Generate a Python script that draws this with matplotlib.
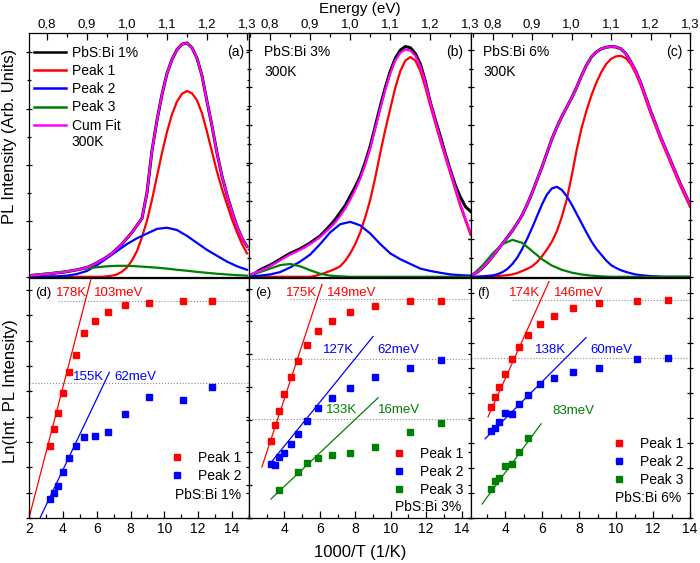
import matplotlib
matplotlib.use('Agg')
import matplotlib.pyplot as plt
from matplotlib.ticker import MultipleLocator, FuncFormatter

plt.rcParams['font.family'] = ['Liberation Sans', 'DejaVu Sans']

RED = '#ff0000'
BLUE = '#0000ff'
GREEN = '#008000'
MAGENTA = '#ff00ff'

# ---- 300K spectra (normalised intensity) ----
# coarse grid for the broad / small components
energy = [0.75, 0.775, 0.8, 0.825, 0.85, 0.875, 0.9, 0.925, 0.95, 0.975, 1.0, 1.025,
          1.05, 1.075, 1.1, 1.125, 1.15, 1.175, 1.2, 1.225, 1.25, 1.275, 1.3]
# fine grid for the sharper curves
energy_fine = [0.75, 0.7625, 0.775, 0.7875, 0.8, 0.8125, 0.825, 0.8375, 0.85, 0.8625,
               0.875, 0.8875, 0.9, 0.9125, 0.925, 0.9375, 0.95, 0.9625, 0.975, 0.9875,
               1.0, 1.0125, 1.025, 1.0375, 1.05, 1.0625, 1.075, 1.0875, 1.1, 1.1125,
               1.125, 1.1375, 1.15, 1.1625, 1.175, 1.1875, 1.2, 1.2125, 1.225, 1.2375,
               1.25, 1.2625, 1.275, 1.2875, 1.3]

# (a) PbS:Bi 1%
a_peak1 = [0, 0, 0, 0, 0, 0, 0, 0, 0, 0, 0, 0, 0, 0, 0, 0,
           0.002, 0.005, 0.01, 0.022, 0.04, 0.07, 0.11, 0.17, 0.24, 0.33, 0.43, 0.53,
           0.62, 0.695, 0.75, 0.783, 0.795, 0.785, 0.755, 0.70, 0.62, 0.535, 0.45,
           0.375, 0.31, 0.245, 0.19, 0.14, 0.10]
a_peak2 = [0, 0, 0.001, 0.002, 0.005, 0.012, 0.025, 0.05, 0.08, 0.11, 0.14, 0.165,
           0.185, 0.205, 0.21, 0.2, 0.175, 0.145, 0.115, 0.09, 0.065, 0.045, 0.03]
a_peak3 = [0.005, 0.01, 0.014, 0.019, 0.024, 0.03, 0.036, 0.041, 0.045, 0.047, 0.047,
           0.045, 0.042, 0.039, 0.035, 0.03, 0.026, 0.021, 0.017, 0.013, 0.01, 0.007, 0.005]
a_fit = [0.005, 0.006, 0.008, 0.01, 0.012, 0.014, 0.017, 0.019, 0.022, 0.026, 0.03,
         0.035, 0.04, 0.049, 0.06, 0.072, 0.085, 0.10, 0.12, 0.14, 0.165, 0.19, 0.22,
         0.25, 0.36, 0.54, 0.67, 0.78, 0.87, 0.93, 0.972, 0.995, 1.0, 0.98, 0.935, 0.86,
         0.75, 0.645, 0.53, 0.43, 0.35, 0.28, 0.215, 0.165, 0.13]
a_data = a_fit

# (b) PbS:Bi 3%
b_peak1 = [0, 0, 0, 0, 0, 0, 0, 0, 0, 0, 0, 0, 0,
           0.004, 0.01, 0.017, 0.025, 0.034, 0.045, 0.068, 0.1, 0.14, 0.19, 0.255, 0.33,
           0.425, 0.53, 0.63, 0.72, 0.81, 0.88, 0.925, 0.94, 0.925, 0.88, 0.81, 0.73,
           0.655, 0.58, 0.51, 0.44, 0.37, 0.30, 0.24, 0.18]
b_peak2 = [0.002, 0.005, 0.01, 0.02, 0.04, 0.065, 0.095, 0.14, 0.19, 0.225, 0.235, 0.22,
           0.185, 0.14, 0.10, 0.075, 0.055, 0.035, 0.025, 0.017, 0.01, 0.007, 0.005]
b_peak3 = [0.008, 0.02, 0.035, 0.05, 0.055, 0.045, 0.028, 0.013, 0.005, 0.002, 0, 0,
           0, 0, 0, 0, 0, 0, 0, 0, 0, 0, 0]
b_fit = [0.01, 0.017, 0.025, 0.035, 0.045, 0.057, 0.07, 0.083, 0.095, 0.105, 0.115,
         0.127, 0.14, 0.154, 0.17, 0.19, 0.21, 0.233, 0.26, 0.292, 0.33, 0.372, 0.42,
         0.48, 0.55, 0.635, 0.72, 0.80, 0.87, 0.925, 0.958, 0.972, 0.968, 0.945, 0.90,
         0.83, 0.745, 0.665, 0.59, 0.52, 0.45, 0.38, 0.31, 0.25, 0.19]
b_data = [0.005, 0.015, 0.03, 0.04, 0.05, 0.062, 0.075, 0.088, 0.1, 0.11, 0.12, 0.132,
          0.145, 0.16, 0.175, 0.197, 0.22, 0.245, 0.275, 0.305, 0.345, 0.385, 0.43,
          0.49, 0.56, 0.645, 0.73, 0.81, 0.88, 0.935, 0.97, 0.985, 0.98, 0.955, 0.91,
          0.835, 0.745, 0.67, 0.60, 0.525, 0.455, 0.39, 0.34, 0.30, 0.28]

# (c) PbS:Bi 6%
c_peak1 = [0, 0, 0, 0.001, 0.002, 0.003, 0.005, 0.007, 0.01, 0.016, 0.025, 0.034,
           0.045, 0.063, 0.088, 0.117, 0.15, 0.195, 0.255, 0.33, 0.43, 0.54, 0.635,
           0.71, 0.775, 0.83, 0.875, 0.91, 0.932, 0.943, 0.945, 0.935, 0.91, 0.87, 0.82,
           0.76, 0.70, 0.645, 0.59, 0.54, 0.49, 0.44, 0.39, 0.345, 0.30]
c_peak2 = [0, 0.001, 0.002, 0.004, 0.006, 0.011, 0.02, 0.034, 0.055, 0.083, 0.12, 0.163,
           0.21, 0.26, 0.31, 0.352, 0.378, 0.385, 0.372, 0.345, 0.31, 0.27, 0.23, 0.19,
           0.152, 0.12, 0.095, 0.07, 0.05, 0.038, 0.028, 0.021, 0.015, 0.01, 0.007,
           0.005, 0.003, 0.002, 0.001, 0, 0, 0, 0, 0, 0]
c_peak3 = [0.01, 0.05, 0.10, 0.14, 0.158, 0.145, 0.11, 0.075, 0.048, 0.03, 0.018, 0.01,
           0.005, 0.002, 0, 0, 0, 0, 0, 0, 0, 0, 0]
c_fit = [0.01, 0.022, 0.04, 0.062, 0.088, 0.115, 0.142, 0.17, 0.198, 0.23, 0.265, 0.31,
         0.36, 0.415, 0.47, 0.53, 0.59, 0.64, 0.685, 0.725, 0.765, 0.81, 0.86, 0.905,
         0.94, 0.962, 0.975, 0.982, 0.985, 0.983, 0.975, 0.955, 0.92, 0.88, 0.83, 0.77,
         0.71, 0.655, 0.60, 0.55, 0.50, 0.45, 0.40, 0.355, 0.31]
c_data = c_fit

# ---- Arrhenius data: 1000/T and ln(integrated intensity) in tick units ----
inv_t = [3.23, 3.45, 3.70, 4.00, 4.35, 4.76, 5.26, 5.88, 6.67, 7.69, 9.09, 11.11, 12.82]

d_peak1 = [2.85, 3.52, 4.15, 4.94, 5.77, 6.44, 7.31, 7.79, 8.14, 8.42, 8.50, 8.58, 8.58]
d_peak2 = [0.75, 0.99, 1.26, 1.82, 2.37, 2.85, 3.20, 3.24, 3.40, 4.11, 4.78, 4.66, 5.18]

e_peak1 = [2.35, 2.84, 3.27, 3.79, 4.31, 4.80, 5.29, 5.72, 6.02, 6.30, 6.48, 6.61, 6.61]
e_peak2 = [1.65, 1.62, 1.87, 1.99, 2.26, 2.57, 2.97, 3.36, 3.67, 3.98, 4.31, 4.59, 4.83]
e_inv_t3 = [3.70, 4.76, 5.26, 5.88, 6.67, 7.69, 9.09, 11.11, 12.82]
e_peak3 = [0.86, 1.41, 1.68, 1.83, 1.93, 1.99, 2.17, 2.63, 2.91]

f_peak1 = [4.44, 4.84, 5.24, 5.76, 6.36, 6.84, 7.32, 7.76, 8.08, 8.40, 8.60, 8.68, 8.72]
f_peak2 = [3.48, 3.60, 3.84, 4.20, 4.16, 4.56, 4.92, 5.36, 5.60, 5.84, 6.00, 6.36, 6.40]
f_inv_t3 = [3.23, 3.45, 3.70, 4.00, 4.35, 4.76, 5.26]
f_peak3 = [1.16, 1.48, 1.60, 2.08, 2.16, 2.64, 3.20]

# linear fits (end points)
d_fit1 = ([2.0, 5.65], [0.0, 9.4])
d_fit2 = ([2.65, 6.75], [0.0, 5.75])
e_fit1 = ([2.73, 6.12], [1.56, 7.13])
e_fit2 = ([3.13, 9.0], [1.62, 5.54])
e_fit3 = ([3.24, 9.29], [0.58, 3.67])
f_fit1 = ([3.08, 6.38], [4.04, 9.44])
f_fit2 = ([2.92, 8.38], [3.16, 7.2])
f_fit3 = ([2.76, 5.95], [0.56, 3.76])

# saturation levels (start x, level)
d_levels = [(3.7, 8.58), (2.0, 5.34)]
e_levels = [(4.3, 6.67), (2.0, 4.86), (2.0, 3.03)]
f_levels = [(4.4, 8.72), (2.16, 6.4)]

W, H = 700, 563
fig = plt.figure(figsize=(W / 100, H / 100), dpi=100)


def box(x0, x1, y0, y1):
    return [x0 / W, 1 - y1 / H, (x1 - x0) / W, (y1 - y0) / H]


cols = [(29, 249), (249, 470.5), (471, 690)]
e_lims = [(0.755, 1.305), (0.7475, 1.3), (0.745, 1.3)]
t_lims = [(2.0, 15.0), (2.0, 14.5), (2.16, 14.0)]
top_ax = [fig.add_axes(box(c[0], c[1], 33, 277.5)) for c in cols]
bot_ax = [fig.add_axes(box(c[0], c[1], 277.5, 518)) for c in cols]

comma = FuncFormatter(lambda v, p: f"{v:.1f}".replace('.', ','))
spectra = [(a_data, a_peak1, a_peak2, a_peak3, a_fit),
           (b_data, b_peak1, b_peak2, b_peak3, b_fit),
           (c_data, c_peak1, c_peak2, c_peak3, c_fit)]
# which grid each curve of a panel uses (data, peak1, peak2, peak3, fit)
grids = [(energy_fine, energy_fine, energy, energy, energy_fine),
         (energy_fine, energy_fine, energy, energy, energy_fine),
         (energy_fine, energy_fine, energy_fine, energy, energy_fine)]
ytick_step = [0.24, 0.162, 0.162]

for i, ax in enumerate(top_ax):
    data, p1, p2, p3, fit = spectra[i]
    g = grids[i]
    ax.plot(g[0], data, color='k', lw=2.2, label='PbS:Bi 1%')
    ax.plot(g[1], p1, color=RED, lw=1.6, label='Peak 1')
    ax.plot(g[2], p2, color=BLUE, lw=1.6, label='Peak 2')
    ax.plot(g[3], p3, color=GREEN, lw=1.6, label='Peak 3')
    ax.plot(g[4], fit, color=MAGENTA, lw=1.6, label='Cum Fit')
    ax.set_xlim(*e_lims[i])
    ax.set_ylim(-0.003, 1.043)
    ax.xaxis.set_major_locator(MultipleLocator(0.1))
    ax.xaxis.set_minor_locator(MultipleLocator(0.05))
    ax.xaxis.set_major_formatter(comma)
    ax.yaxis.set_major_locator(MultipleLocator(ytick_step[i]))
    ax.yaxis.set_minor_locator(MultipleLocator(ytick_step[i] / 2))
    ax.tick_params(axis='x', which='both', direction='in', top=True, bottom=False,
                   labeltop=True, labelbottom=False, labelsize=9.5, pad=2)
    ax.tick_params(axis='y', which='both', direction='inout', left=True, right=True,
                   labelleft=False)

for ax in top_ax + bot_ax:
    ax.tick_params(which='major', length=5, width=0.9)
    ax.tick_params(which='minor', length=3, width=0.9)
    for s in ax.spines.values():
        s.set_linewidth(0.9)

leg = top_ax[0].legend(loc='upper left', bbox_to_anchor=(0.023, 0.947), frameon=False,
                       fontsize=10, handlelength=2.3, handletextpad=0.45,
                       labelspacing=0.3, borderpad=0, borderaxespad=0)
for ln in leg.get_lines():
    ln.set_linewidth(1.8)
top_ax[0].text(0.195, 0.554, '300K', transform=top_ax[0].transAxes, fontsize=10, va='center')
top_ax[0].text(0.98, 0.922, '(a)', transform=top_ax[0].transAxes, fontsize=10,
               va='center', ha='right')
top_ax[1].text(0.068, 0.922, 'PbS:Bi 3%', transform=top_ax[1].transAxes, fontsize=10, va='center')
top_ax[1].text(0.068, 0.84, '300K', transform=top_ax[1].transAxes, fontsize=10, va='center')
top_ax[1].text(0.966, 0.922, '(b)', transform=top_ax[1].transAxes, fontsize=10,
               va='center', ha='right')
top_ax[2].text(0.055, 0.922, 'PbS:Bi 6%', transform=top_ax[2].transAxes, fontsize=10, va='center')
top_ax[2].text(0.055, 0.84, '300K', transform=top_ax[2].transAxes, fontsize=10, va='center')
top_ax[2].text(0.968, 0.922, '(c)', transform=top_ax[2].transAxes, fontsize=10,
               va='center', ha='right')

# ---- bottom row ----
panels = [
    dict(series=[(inv_t, d_peak1, RED, 'Peak 1'), (inv_t, d_peak2, BLUE, 'Peak 2')],
         fits=[(d_fit1, RED), (d_fit2, BLUE)], levels=d_levels, top=9.49,
         ticks=[2, 4, 6, 8, 10, 12, 14], sample='PbS:Bi 1%',
         leg=(0.641, 0.279), samp=(0.664, 0.096),
         texts=[(2.35, 8.89, '(d)', 'k'), (3.59, 8.89, '178K', RED), (5.82, 8.89, '103meV', RED),
                (4.59, 5.57, '155K', BLUE), (7.06, 5.57, '62meV', BLUE)]),
    dict(series=[(inv_t, e_peak1, RED, 'Peak 1'), (inv_t, e_peak2, BLUE, 'Peak 2'),
                 (e_inv_t3, e_peak3, GREEN, 'Peak 3')],
         fits=[(e_fit1, RED), (e_fit2, BLUE), (e_fit3, GREEN)], levels=e_levels, top=7.34,
         ticks=[4, 6, 8, 10, 12, 14], sample='PbS:Bi 3%',
         leg=(0.645, 0.297), samp=(0.659, 0.046),
         texts=[(2.34, 6.88, '(e)', 'k'), (4.09, 6.88, '175K', RED), (6.41, 6.88, '149meV', RED),
                (6.18, 5.14, '127K', BLUE), (9.23, 5.14, '62meV', BLUE),
                (6.35, 3.30, '133K', GREEN), (9.29, 3.30, '16meV', GREEN)]),
    dict(series=[(inv_t, f_peak1, RED, 'Peak 1'), (inv_t, f_peak2, BLUE, 'Peak 2'),
                 (f_inv_t3, f_peak3, GREEN, 'Peak 3')],
         fits=[(f_fit1, RED), (f_fit2, BLUE), (f_fit3, GREEN)], levels=f_levels, top=9.6,
         ticks=[4, 6, 8, 10, 12, 14], sample='PbS:Bi 6%',
         leg=(0.645, 0.337), samp=(0.658, 0.083),
         texts=[(2.49, 9.0, '(f)', 'k'), (4.22, 9.0, '174K', RED), (6.65, 9.0, '146meV', RED),
                (5.62, 6.72, '138K', BLUE), (8.59, 6.72, '60meV', BLUE),
                (6.54, 4.28, '83meV', GREEN)]),
]

for i, ax in enumerate(bot_ax):
    p = panels[i]
    x0, x1 = t_lims[i]
    for xs, lvl in p['levels']:
        ax.plot([xs, x1], [lvl, lvl], ls=':', color='#8c8c8c', lw=0.8, zorder=1)
    for (fx, fy), col in p['fits']:
        ax.plot(fx, fy, color=col, lw=0.9, zorder=2)
    for xs, ys, col, lab in p['series']:
        ax.plot(xs, ys, 's', color=col, ms=5, mec=col, label=lab, zorder=3)
    for tx, ty, s, col in p['texts']:
        ax.text(tx, ty, s, color=col, fontsize=9.5, ha='left', va='center')
    ax.set_xlim(x0, x1)
    ax.set_ylim(0, p['top'])
    ax.set_xticks(p['ticks'])
    ax.xaxis.set_minor_locator(MultipleLocator(1))
    ax.yaxis.set_major_locator(MultipleLocator(1))
    ax.tick_params(axis='x', which='both', direction='in', top=False, bottom=True,
                   labelsize=10, pad=3)
    ax.tick_params(axis='y', which='both', direction='inout', left=True, right=True,
                   labelleft=False)
    ax.legend(loc='upper left', bbox_to_anchor=p['leg'], frameon=False, fontsize=10,
              handlelength=1.0, handletextpad=1.0, labelspacing=0.3, borderpad=0,
              borderaxespad=0)
    ax.text(p['samp'][0], p['samp'][1], p['sample'], transform=ax.transAxes,
            fontsize=10, va='center')

fig.text(360 / W, 1 - 9 / H, 'Energy (eV)', ha='center', va='center', fontsize=11)
fig.text(360 / W, 1 - 553 / H, '1000/T (1/K)', ha='center', va='center', fontsize=12)
fig.text(10 / W, 1 - 136 / H, 'PL Intensity (Arb. Units)', rotation=90,
         ha='center', va='center', fontsize=12)
fig.text(11 / W, 1 - 391 / H, 'Ln(Int. PL Intensity)', rotation=90,
         ha='center', va='center', fontsize=12)

fig.savefig('out.png', dpi=100)
